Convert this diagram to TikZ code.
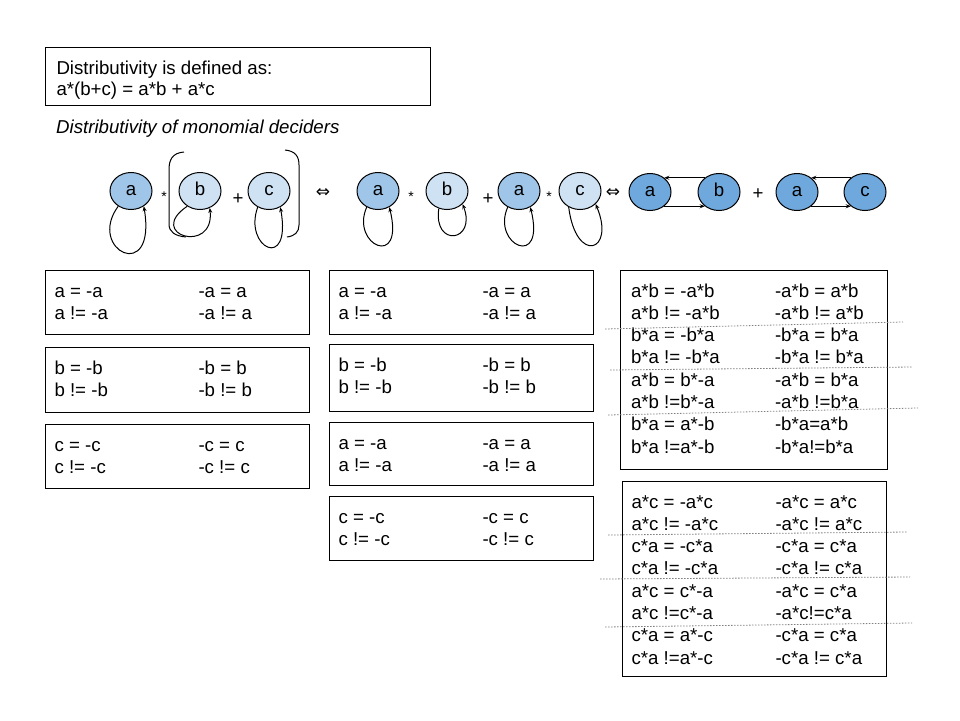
\documentclass[tikz,border=0pt]{standalone}
\usepackage{fontspec}
\setmainfont{Liberation Sans}
\newfontfamily\symfont{DejaVu Sans}
\usetikzlibrary{shapes.geometric,arrows.meta}
\definecolor{lightblue}{HTML}{CFE2F3}
\definecolor{midblue}{HTML}{9FC5E8}
\definecolor{darkblue}{HTML}{6FA8DC}
\newcommand{\eqsize}{\fontsize{18.67pt}{22pt}\selectfont}
\newcommand{\eqrows}[1]{\begin{tabular}[t]{@{}p{144pt}@{}p{102pt}@{}}#1\end{tabular}}
\begin{document}
\begin{tikzpicture}[x=1pt,y=-1pt,
	decider/.style={ellipse, draw, line width=1pt, minimum width=42pt, minimum height=37pt, inner sep=0pt, font=\eqsize, text height=9.7pt, text depth=0pt},
	eqbox/.style={draw, line width=1pt, anchor=north west, inner xsep=9pt, inner ysep=0pt, text height=26.5pt, font=\eqsize},
	opsym/.style={anchor=base, inner sep=0pt, font=\eqsize},
	timessym/.style={opsym, font=\fontsize{14pt}{14pt}\selectfont},
	iffsym/.style={inner sep=0pt, font=\symfont\fontsize{17pt}{17pt}\selectfont},
	selfarc/.style={line width=1pt, -{Stealth[length=5pt,width=4pt]}},
	arr/.style={line width=1pt, -{Stealth[length=5pt,width=4pt]}},
	sepline/.style={gray, line width=0.8pt, dash pattern=on 1.5pt off 1.5pt}]
	\useasboundingbox (0,0) rectangle (960,720);
	\node[eqbox, inner xsep=11pt, text depth=31.5pt, font=\fontsize{18.67pt}{21pt}\selectfont] (defbox) at (45,47) {\begin{tabular}[t]{@{}p{363pt}@{}}Distributivity is defined as:\\ a*(b+c) = a*b + a*c\end{tabular}};
	\node[anchor=base west, inner sep=0pt, font=\fontsize{18.67pt}{21pt}\selectfont\itshape] (title) at (56,133) {Distributivity of monomial deciders};

	\node[decider, fill=midblue] (la) at (131,191) {a};
	\node[decider, fill=lightblue] (lb) at (200,191) {b};
	\node[decider, fill=lightblue] (lc) at (269,191) {c};
	\node[timessym] (ltimes) at (164,201) {*};
	\node[opsym] (lplus) at (238,204.5) {+};
	\node[iffsym] (liff) at (323,193) {⇔};
	\draw[selfarc] (la.230) .. controls (86,250) and (157,285) .. (la.310);
	\draw[selfarc] (lb.230) .. controls (145,235) and (215,255) .. (lb.300);
	\draw[selfarc] (lc.235) .. controls (243,248) and (292,272) .. (lc.305);
	\draw[line width=1pt] (184,152) .. controls (172,153) and (169,160) .. (169,170) -- (169,224) .. controls (169,232) and (175,236) .. (186,237);
	\draw[line width=1pt] (285,150) .. controls (295,151) and (299,156) .. (299,165) -- (299,225) .. controls (299,232) and (295,236) .. (287,237);

	\node[decider, fill=midblue] (ma1) at (378,191) {a};
	\node[decider, fill=lightblue] (mb) at (447,191) {b};
	\node[decider, fill=midblue] (ma2) at (519,191) {a};
	\node[decider, fill=lightblue] (mc) at (580,191) {c};
	\node[timessym] (mtimes1) at (411,201) {*};
	\node[opsym] (mplus) at (488,204.5) {+};
	\node[timessym] (mtimes2) at (549,201) {*};
	\node[iffsym] (miff) at (613,193) {⇔};
	\draw[selfarc] (ma1.235) .. controls (350,245) and (405,270) .. (ma1.305);
	\draw[selfarc] (mb.245) .. controls (433,248) and (477,242) .. (mb.320);
	\draw[selfarc] (ma2.235) .. controls (491,245) and (546,270) .. (ma2.305);
	\draw[selfarc] (mc.235) .. controls (576,265) and (616,252) .. (mc.320);

	\node[decider, fill=darkblue] (ra1) at (650,192) {a};
	\node[decider, fill=darkblue] (rb) at (719,192) {b};
	\node[decider, fill=darkblue] (ra2) at (797,192) {a};
	\node[decider, fill=darkblue] (rc) at (865,192) {c};
	\node[opsym] (rplus) at (758,199.5) {+};
	\draw[arr] (rb.135) -- (ra1.45);
	\draw[arr] (ra1.-45) -- (rb.-135);
	\draw[arr] (rc.135) -- (ra2.45);
	\draw[arr] (ra2.-45) -- (rc.-135);

	\node[eqbox, text depth=37.5pt] (la-box) at (45,270) {\eqrows{a = -a & -a = a\\ a != -a & -a != a}};
	\node[eqbox, text depth=38.5pt] (lb-box) at (45,347) {\eqrows{b = -b & -b = b\\ b != -b & -b != b}};
	\node[eqbox, text depth=37.5pt] (lc-box) at (45,424) {\eqrows{c = -c & -c = c\\ c != -c & -c != c}};

	\node[eqbox, text depth=37.5pt] (ma1-box) at (329,270) {\eqrows{a = -a & -a = a\\ a != -a & -a != a}};
	\node[eqbox, text depth=40.5pt] (mb-box) at (329,344) {\eqrows{b = -b & -b = b\\ b != -b & -b != b}};
	\node[eqbox, text depth=36.5pt] (ma2-box) at (329,422) {\eqrows{a = -a & -a = a\\ a != -a & -a != a}};
	\node[eqbox, text depth=37.5pt] (mc-box) at (329,496) {\eqrows{c = -c & -c = c\\ c != -c & -c != c}};

	\node[eqbox, inner xsep=10.5pt, text depth=172.5pt, font=\fontsize{18.67pt}{22.3pt}\selectfont] (ab-box) at (620,270) {\eqrows{a*b = -a*b & -a*b = a*b\\ a*b != -a*b & -a*b != a*b\\ b*a = -b*a & -b*a = b*a\\ b*a != -b*a & -b*a != b*a\\ a*b = b*-a & -a*b = b*a\\ a*b !=b*-a & -a*b !=b*a\\ b*a = a*-b & -b*a=a*b\\ b*a !=a*-b & -b*a!=b*a}};
	\node[eqbox, text depth=168.5pt, font=\fontsize{18.67pt}{22.3pt}\selectfont] (ac-box) at (622,481) {\eqrows{a*c = -a*c & -a*c = a*c\\ a*c != -a*c & -a*c != a*c\\ c*a = -c*a & -c*a = c*a\\ c*a != -c*a & -c*a != c*a\\ a*c = c*-a & -a*c = c*a\\ a*c !=c*-a & -a*c!=c*a\\ c*a = a*-c & -c*a = c*a\\ c*a !=a*-c & -c*a != c*a}};

	\draw[sepline] (605,329) -- (903,322);
	\draw[sepline] (610,370) -- (912,367);
	\draw[sepline] (608,415) -- (918,408);
	\draw[sepline] (608,535) -- (907,532);
	\draw[sepline] (600,579) -- (910,577);
	\draw[sepline] (605,627) -- (912,623);
\end{tikzpicture}
\end{document}
